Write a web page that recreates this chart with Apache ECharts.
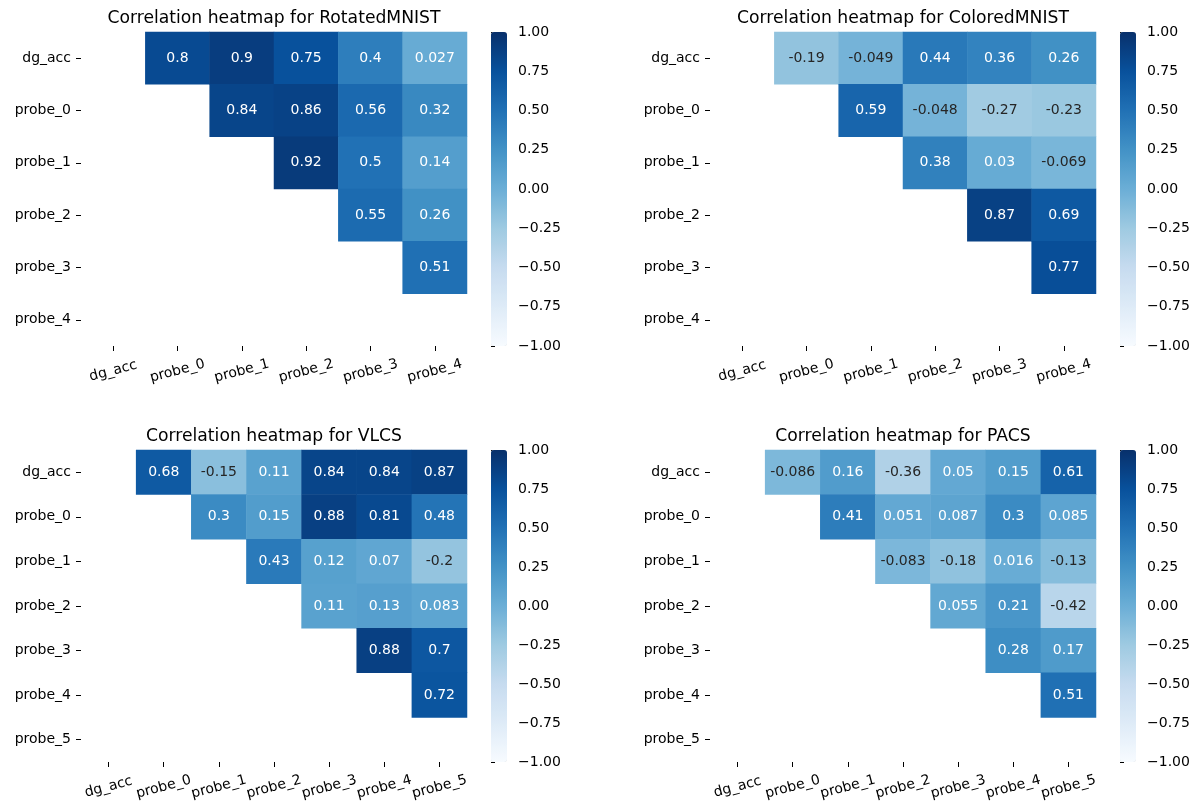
<!DOCTYPE html>
<html>
<head>
<meta charset="utf-8">
<script src="https://cdn.jsdelivr.net/npm/echarts@6/dist/echarts.min.js"></script>
<style>
html,body{margin:0;padding:0;background:#fff;}
#chart{width:1194px;height:803px;}
</style>
</head>
<body>
<div id="chart"></div>
<script>
// ---- data ----
const titles = ['Correlation heatmap for RotatedMNIST','Correlation heatmap for ColoredMNIST','Correlation heatmap for VLCS','Correlation heatmap for PACS'];
const labels5 = ['dg_acc','probe_0','probe_1','probe_2','probe_3','probe_4'];
const labels6 = ['dg_acc','probe_0','probe_1','probe_2','probe_3','probe_4','probe_5'];
// each row i lists the values for columns i+1 .. n-1
const rotatedRows = [
  [0.8, 0.9, 0.75, 0.4, 0.027],
  [0.84, 0.86, 0.56, 0.32],
  [0.92, 0.5, 0.14],
  [0.55, 0.26],
  [0.51],
  []
];
const coloredRows = [
  [-0.19, -0.049, 0.44, 0.36, 0.26],
  [0.59, -0.048, -0.27, -0.23],
  [0.38, 0.03, -0.069],
  [0.87, 0.69],
  [0.77],
  []
];
const vlcsRows = [
  [0.68, -0.15, 0.11, 0.84, 0.84, 0.87],
  [0.3, 0.15, 0.88, 0.81, 0.48],
  [0.43, 0.12, 0.07, -0.2],
  [0.11, 0.13, 0.083],
  [0.88, 0.7],
  [0.72],
  []
];
const pacsRows = [
  [-0.086, 0.16, -0.36, 0.05, 0.15, 0.61],
  [0.41, 0.051, 0.087, 0.3, 0.085],
  [-0.083, -0.18, 0.016, -0.13],
  [0.055, 0.21, -0.42],
  [0.28, 0.17],
  [0.51],
  []
];
const colorbarTicks = [-1, -0.75, -0.5, -0.25, 0, 0.25, 0.5, 0.75, 1];
const blues = ['#f7fbff','#deebf7','#c6dbef','#9ecae1','#6baed6','#4292c6','#2171b5','#08519c','#08306b'];

// ---- layout ----
const panels = [
  {rows: rotatedRows, labels: labels5, left: 81, top: 32, height: 314, cb: 491},
  {rows: coloredRows, labels: labels5, left: 710, top: 32, height: 314, cb: 1120},
  {rows: vlcsRows, labels: labels6, left: 81, top: 450, height: 312, cb: 491},
  {rows: pacsRows, labels: labels6, left: 710, top: 450, height: 312, cb: 1120}
];
const W = 386;
const FONT = 'DejaVu Sans';

function hexToRgb(h){return [parseInt(h.slice(1,3),16),parseInt(h.slice(3,5),16),parseInt(h.slice(5,7),16)];}
function colorAt(v){
  let t = (v + 1) / 2 * 8;
  let i = Math.min(7, Math.floor(t)); let f = t - i;
  const a = hexToRgb(blues[i]), b = hexToRgb(blues[i+1]);
  return a.map((c,k)=> (c + (b[k]-c)*f)/255);
}
function lum(rgb){
  const lin = rgb.map(c => c <= 0.03928 ? c/12.92 : Math.pow((c+0.055)/1.055, 2.4));
  return 0.2126*lin[0] + 0.7152*lin[1] + 0.0722*lin[2];
}

const option = {
  backgroundColor: '#fff',
  animation: false,
  textStyle: {fontFamily: FONT},
  title: [], grid: [], xAxis: [], yAxis: [], visualMap: [], series: []
};

panels.forEach((p, k) => {
  option.title.push({
    text: titles[k], left: p.left + W/2, top: p.top - 22, textAlign: 'center', padding: 0,
    textStyle: {fontFamily: FONT, fontSize: 17.2, fontWeight: 'normal', color: '#000'}
  });
  option.grid.push({left: p.left, top: p.top, width: W, height: p.height});
  option.xAxis.push({
    type: 'category', gridIndex: k, data: p.labels,
    axisLine: {show: false},
    axisTick: {show: true, alignWithLabel: true, length: 5, lineStyle: {color: '#000'}},
    axisLabel: {rotate: 15, align: 'center', verticalAlign: 'middle', margin: 25, fontSize: 14, color: '#000', fontFamily: FONT, interval: 0},
    splitLine: {show: false}
  });
  option.yAxis.push({
    type: 'category', gridIndex: k, data: p.labels, inverse: true,
    axisLine: {show: false},
    axisTick: {show: true, alignWithLabel: true, length: 5, lineStyle: {color: '#000'}},
    axisLabel: {margin: 10, fontSize: 14, color: '#000', fontFamily: FONT, interval: 0},
    splitLine: {show: false}
  });
  const data = [];
  p.rows.forEach((row, i) => {
    row.forEach((v, m) => {
      const j = i + 1 + m;
      const c = lum(colorAt(v)) > 0.408 ? '#262626' : '#ffffff';
      data.push({value: [j, i, v], label: {color: c}});
    });
  });
  option.series.push({
    type: 'heatmap', xAxisIndex: k, yAxisIndex: k, data: data,
    label: {show: true, fontSize: 14, fontFamily: FONT, formatter: q => String(q.value[2])},
    emphasis: {disabled: true}, itemStyle: {borderWidth: 0}
  });
  option.visualMap.push({
    type: 'continuous', min: -1, max: 1, seriesIndex: k, dimension: 2,
    left: p.cb, top: p.top, itemWidth: 16, itemHeight: p.height, padding: 0,
    calculable: false, show: true, inRange: {color: blues}, hoverLink: false
  });
});

// colorbar axes
panels.forEach((p, k) => {
  const gi = 4 + k;
  option.grid.push({left: p.cb, top: p.top, width: 16, height: p.height});
  option.xAxis.push({type: 'value', gridIndex: gi, show: false, min: 0, max: 1});
  option.yAxis.push({
    type: 'value', gridIndex: gi, position: 'right', min: colorbarTicks[0], max: colorbarTicks[colorbarTicks.length-1], interval: 0.25,
    axisLine: {show: false},
    axisTick: {show: true, length: 4, lineStyle: {color: '#000'}},
    splitLine: {show: false},
    axisLabel: {margin: 11, fontSize: 14, color: '#000', fontFamily: FONT,
      formatter: v => (v < 0 ? '\u2212' : '') + Math.abs(v).toFixed(2)}
  });
  option.series.push({type: 'line', xAxisIndex: gi, yAxisIndex: gi, data: [], silent: true});
});

const chart = echarts.init(document.getElementById('chart'), null, {renderer: 'canvas'});
chart.setOption(option);
</script>
</body>
</html>
